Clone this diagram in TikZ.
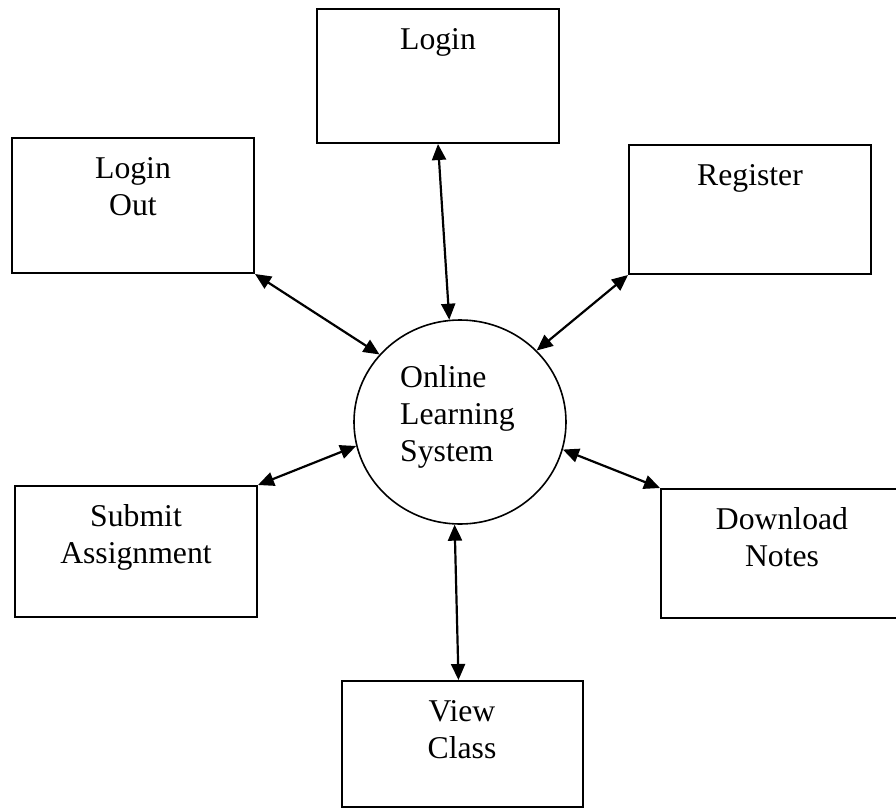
\documentclass[tikz,border=0pt]{standalone}
\usepackage{fontspec}
\setmainfont{Liberation Serif}
\usetikzlibrary{arrows.meta,shapes.geometric}
\tikzset{
  procbox/.style={draw=black, line width=2bp, rectangle, inner sep=0pt, minimum width=242bp},
  sysellipse/.style={draw=black, line width=1.6bp, ellipse, inner sep=0pt, minimum width=212bp, minimum height=204bp},
  boxtext/.style={anchor=base, align=center, inner sep=0pt, font=\fontsize{31.7bp}{36.8bp}\selectfont},
  circtext/.style={anchor=base west, align=left, inner sep=0pt, font=\fontsize{31.7bp}{36.8bp}\selectfont},
  dbl/.style={line width=2.2bp, {Triangle[length=16bp,width=14bp]}-{Triangle[length=16bp,width=14bp]}}
}
\begin{document}
\begin{tikzpicture}[x=1bp,y=-1bp]
\fill[white] (0,0) rectangle (896,810);
\useasboundingbox (0,0) rectangle (896,810);

\node[procbox, minimum height=134bp] (login) at (438,76) {};
\node[procbox, minimum height=135bp] (loginout) at (133,205.5) {};
\node[procbox, minimum height=129bp] (register) at (750,209.5) {};
\node[procbox, minimum height=131bp] (submit) at (136,551.5) {};
\node[procbox, minimum height=129bp] (download) at (782,553.5) {};
\node[procbox, minimum width=241bp, minimum height=126bp] (view) at (462.5,744) {};
\node[sysellipse] (sys) at (460,422) {};

\node[boxtext] (logint) at (438,50) {Login};
\node[boxtext] (loginoutt) at (133,215) {Login\\Out};
\node[boxtext] (registert) at (750,185) {Register};
\node[boxtext] (submitt) at (136,563) {Submit\\Assignment};
\node[boxtext] (downloadt) at (782,566) {Download\\Notes};
\node[boxtext] (viewt) at (462,758) {View\\Class};
\node[circtext] (syst) at (400,461) {Online\\Learning\\System};

\draw[dbl] (login.south) -- (sys.96.7);
\draw[dbl] (loginout.south east) -- (sys.140.5);
\draw[dbl] (register.south west) -- (sys.43.2);
\draw[dbl] (submit.north east) -- (sys.193.4);
\draw[dbl] (download.north west) -- (sys.-15.9);
\draw[dbl] ([xshift=-4bp]view.north) -- (sys.267.2);
\end{tikzpicture}
\end{document}
